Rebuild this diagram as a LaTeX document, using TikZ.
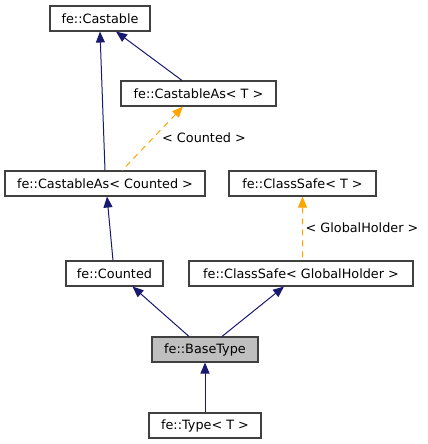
\documentclass[tikz,border=0pt]{standalone}
\usepackage{fontspec}
\setmainfont{DejaVu Sans}
\usetikzlibrary{arrows.meta}
\definecolor{edgeblue}{HTML}{191970}
\definecolor{boxline}{HTML}{404040}
\definecolor{tmplorange}{HTML}{FFA500}
\definecolor{curfill}{HTML}{BFBFBF}
\tikzset{
  cls/.style={draw=boxline, line width=1.1bp, fill=white, inner sep=0pt, minimum height=25bp,
    font=\fontsize{12.8bp}{14bp}\selectfont, text=black},
  cur/.style={cls, fill=curfill},
  inh/.style={edgeblue, line width=1bp, {Triangle[length=11bp,width=9bp]}-},
  tpl/.style={tmplorange, line width=1bp, dash pattern=on 6bp off 5bp, {Triangle[length=11bp,width=9bp]}-},
  lbl/.style={font=\fontsize{12.8bp}{14bp}\selectfont, text=black, inner sep=0pt}
}
\begin{document}
\begin{tikzpicture}[x=1bp,y=-1bp]
\useasboundingbox (0,0) rectangle (427,444);
\node[cls, minimum width=100bp] (castable) at (100,18.5) {fe::Castable};
\node[cls, minimum width=155bp] (cat) at (198.5,93.5) {fe::CastableAs< T >};
\node[cls, minimum width=200bp] (cac) at (105,183.5) {fe::CastableAs< Counted >};
\node[cls, minimum width=147bp] (cst) at (302.5,183.5) {fe::ClassSafe< T >};
\node[cls, minimum width=97bp] (counted) at (114.5,273.5) {fe::Counted};
\node[cls, minimum width=224bp] (csg) at (301,273.5) {fe::ClassSafe< GlobalHolder >};
\node[cur, minimum width=106bp] (bt) at (205,349.5) {fe::BaseType};
\node[cls, minimum width=112bp] (type) at (205,425.5) {fe::Type< T >};

\draw[inh] (castable.south) -- (cac.north);
\draw[inh] ([xshift=16bp]castable.south) -- ([xshift=-16.5bp]cat.north);
\draw[tpl] ([xshift=-15.5bp]cat.south) -- ([xshift=17bp]cac.north);
\node[lbl] (lc) at (204,138) {< Counted >};
\draw[inh] ([xshift=2bp]cac.south) -- ([xshift=-1.5bp]counted.north);
\draw[tpl] (cst.south) -- ([xshift=1.5bp]csg.north);
\node[lbl] (lg) at (362,228) {< GlobalHolder >};
\draw[inh] ([xshift=18bp]counted.south) -- ([xshift=-16bp]bt.north);
\draw[inh] ([xshift=-17bp]csg.south) -- ([xshift=17bp]bt.north);
\draw[inh] (bt.south) -- (type.north);
\end{tikzpicture}
\end{document}
